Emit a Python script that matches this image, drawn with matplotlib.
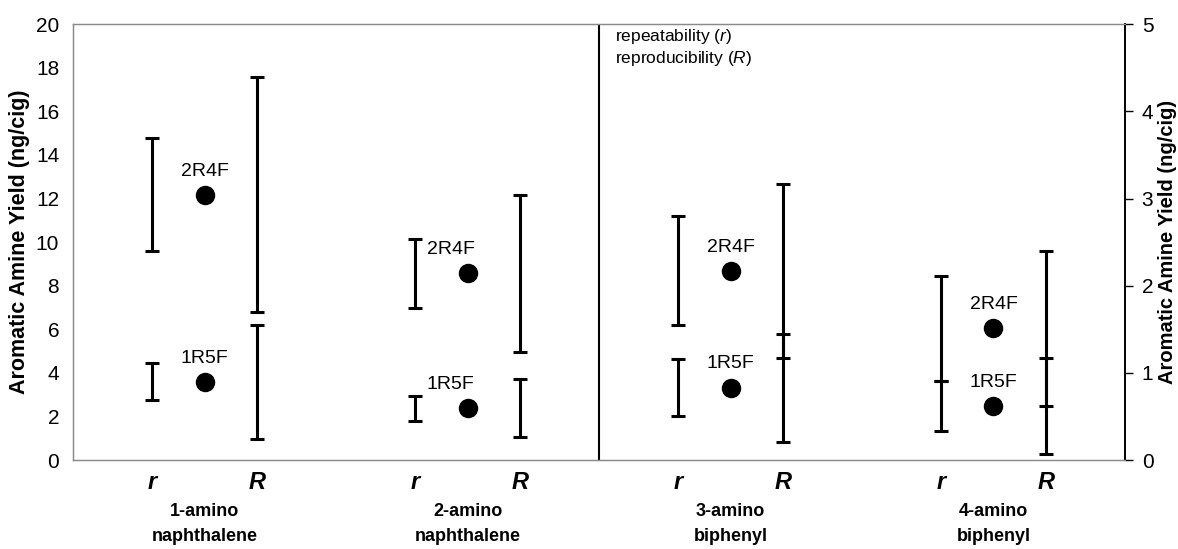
import matplotlib.pyplot as plt
import numpy as np

plt.rcParams['font.family'] = ['Liberation Sans', 'DejaVu Sans']
plt.rcParams['mathtext.fontset'] = 'custom'
plt.rcParams['mathtext.rm'] = 'Liberation Sans'
plt.rcParams['mathtext.it'] = 'Liberation Sans:italic'

# amines: first two on the left scale, last two on the right scale
amines = ['1-amino\nnaphthalene', '2-amino\nnaphthalene', '3-amino\nbiphenyl', '4-amino\nbiphenyl']
use_right = [False, False, True, True]

# mean yields (ng/cig) with repeatability r and reproducibility R (full interval widths)
mean_2r4f = [12.17, 8.56, 2.17, 1.51]
r_2r4f = [5.20, 3.19, 1.25, 1.21]
R_2r4f = [10.78, 7.22, 1.99, 1.78]
mean_1r5f = [3.59, 2.37, 0.83, 0.62]
r_1r5f = [1.70, 1.18, 0.65, 0.57]
R_1r5f = [5.24, 2.66, 1.24, 1.09]

left_ticks = np.arange(0, 21, 2)
right_ticks = np.arange(0, 6, 1)

fig = plt.figure(figsize=(11.78, 5.49), dpi=100)
ax = fig.add_axes([0.062, 0.162, 0.893, 0.794])
ax2 = ax.twinx()

ax.set_xlim(-0.5, 3.5)
ax.set_ylim(0, 20)
ax2.set_ylim(0, 5)

bar_kw = dict(fmt='none', ecolor='black', elinewidth=2.2, capsize=5, capthick=2.2)
label_dx = [0, -12, 0, 0]

for i in range(len(amines)):
    a = ax2 if use_right[i] else ax
    for m, r, R, name in [(mean_2r4f[i], r_2r4f[i], R_2r4f[i], '2R4F'),
                          (mean_1r5f[i], r_1r5f[i], R_1r5f[i], '1R5F')]:
        a.errorbar(i - 0.2, m, yerr=r / 2, **bar_kw)
        a.errorbar(i + 0.2, m, yerr=R / 2, **bar_kw)
        a.plot(i, m, 'o', color='black', ms=13)
        a.annotate(name, (i, m), xytext=(label_dx[i], 11), textcoords='offset points',
                   ha='center', va='bottom', fontsize=14)

# divider between the two scales
ax.axvline(1.5, color='black', lw=1.5)

ax.text(1.56, 19.85, 'repeatability ($\\it{r}$)\nreproducibility ($\\it{R}$)',
        fontsize=12.5, va='top', ha='left', linespacing=1.15)

xt = []
xl = []
for i in range(len(amines)):
    xt += [i - 0.2, i + 0.2]
    xl += ['r', 'R']
ax.set_xticks(xt)
ax.set_xticklabels(xl, fontsize=17, fontweight='bold', fontstyle='italic')
ax.tick_params(axis='x', length=0, pad=8)

for i, name in enumerate(amines):
    ax.text(i, -0.098, name, transform=ax.get_xaxis_transform(), ha='center', va='top',
            fontsize=13, fontweight='bold', linespacing=1.6)

ax.set_yticks(left_ticks)
ax.tick_params(axis='y', length=0, labelsize=15, pad=10)
ax2.set_yticks(right_ticks)
ax2.tick_params(axis='y', length=6, width=1, labelsize=15, pad=6)

ax.set_ylabel('Aromatic Amine Yield (ng/cig)', fontsize=15.5, fontweight='bold', labelpad=4)
ax2.set_ylabel('Aromatic Amine Yield (ng/cig)', fontsize=14.5, fontweight='bold', labelpad=3)

for a in (ax, ax2):
    for side in ('top', 'left', 'bottom'):
        a.spines[side].set_color('#8a8a8a')
        a.spines[side].set_linewidth(0.9)
    a.spines['right'].set_color('black')
    a.spines['right'].set_linewidth(1.2)

fig.savefig('out.png', dpi=100)
